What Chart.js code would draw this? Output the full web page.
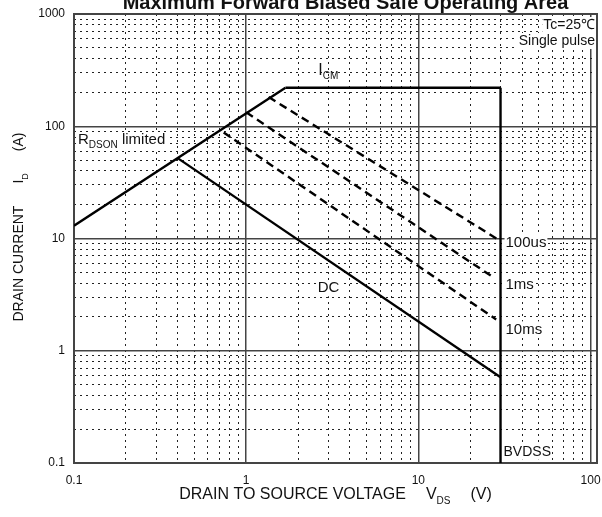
<!DOCTYPE html>
<html>
<head>
<meta charset="utf-8">
<script src="https://cdn.jsdelivr.net/npm/chart.js@4.4.1/dist/chart.umd.min.js"></script>
<style>
  html, body { margin: 0; padding: 0; background: #fff; }
</style>
</head>
<body>
<canvas id="soaChart" width="602" height="517"></canvas>
<script>
// 目盛り (対数軸)
const xMajor = [0.1, 1, 10, 100];
const yMajor = [0.1, 1, 10, 100, 1000];
const minorSteps = [2, 3, 4, 5, 6, 7, 8, 9];

// 各制限線 (V, A)
const rdsonV = [0.1, 1.69];
const rdsonI = [13, 220];
const icmV = [1.69, 30];
const icmI = [220, 220];
const bvdssV = [30, 30];
const bvdssI = [0.1, 220];
const dcV = [0.4, 30];
const dcI = [52, 0.58];
const us100V = [1.35, 30];
const us100I = [182, 9.5];
const ms1V = [1, 27.3];
const ms1I = [133, 4.5];
const ms10V = [0.74, 28.3];
const ms10I = [88, 1.9];

const FONT = "'Liberation Sans', Arial, sans-serif";

// 主目盛り + 補助目盛り
function gridValues(majors) {
  const out = [];
  for (let i = 0; i < majors.length; i++) {
    out.push(majors[i]);
    if (i < majors.length - 1) {
      minorSteps.forEach((m) => out.push(majors[i] * m));
    }
  }
  return out;
}
const xGrid = gridValues(xMajor);
const yGrid = gridValues(yMajor);

function isMajor(list, v) {
  return list.some((m) => Math.abs(m - v) / m < 1e-6);
}

function toPoints(xs, ys) {
  return xs.map((v, i) => ({ x: v, y: ys[i] }));
}

function lineSet(xs, ys, dashed) {
  return {
    data: toPoints(xs, ys),
    showLine: true,
    borderColor: "#000",
    borderWidth: 2.4,
    borderDash: dashed ? [8, 5] : [],
    pointRadius: 0,
    fill: false,
  };
}

// ラベル (位置は軸の値で指定)
const labels = [
  { parts: [["100us", 15]], xv: 30, dx: 5, yv: 9.1 },
  { parts: [["1ms", 15]], xv: 30, dx: 5, yv: 3.9 },
  { parts: [["10ms", 15]], xv: 30, dx: 5, yv: 1.55 },
  { parts: [["DC", 15]], xv: 2.6, dx: 0, yv: 3.6 },
  { parts: [["BVDSS", 14]], xv: 30, dx: 3, yv: 0.126 },
  { parts: [["I", 16], ["CM", 10, true]], xv: 2.62, dx: 0, yv: 312, bg: false },
  { parts: [["R", 15], ["DSON", 10, true], [" limited", 15]], xv: 0.1, dx: 4, yv: 75 },
];

function partsWidth(ctx, parts) {
  let w = 0;
  parts.forEach((p) => {
    ctx.font = p[1] + "px " + FONT;
    w += ctx.measureText(p[0]).width + (p[3] || 0);
  });
  return w;
}

function drawParts(ctx, parts, x, y) {
  parts.forEach((p) => {
    ctx.font = p[1] + "px " + FONT;
    ctx.fillText(p[0], x, p[2] ? y + 5 : y);
    x += ctx.measureText(p[0]).width + (p[3] || 0);
  });
}

function labelBoxes(chart, textOnly) {
  const ctx = chart.ctx;
  const xs = chart.scales.x;
  const ys = chart.scales.y;
  const area = chart.chartArea;
  ctx.save();
  ctx.textBaseline = "middle";
  ctx.textAlign = "left";
  labels.forEach((l) => {
    const x = xs.getPixelForValue(l.xv) + l.dx;
    const y = ys.getPixelForValue(l.yv);
    const w = partsWidth(ctx, l.parts);
    if (!textOnly) {
      if (l.bg !== false) {
        ctx.fillStyle = "#fff";
        ctx.fillRect(x - 1, y - 8, w + 2, 16);
      }
    } else {
      ctx.fillStyle = "#111";
      drawParts(ctx, l.parts, x, y);
    }
  });

  // 右上の条件
  const notes = ["Tc=25℃", "Single pulse"];
  notes.forEach((t, i) => {
    ctx.font = "14px " + FONT;
    const w = ctx.measureText(t).width;
    const x = area.right - 2 - w;
    const y = area.top + 11 + i * 16;
    if (!textOnly) {
      ctx.fillStyle = "#fff";
      ctx.fillRect(x - 1, y - 8, w + 2, 16);
    } else {
      ctx.fillStyle = "#111";
      ctx.fillText(t, x, y);
    }
  });
  ctx.restore();
}

const soaPlugin = {
  id: "soaText",
  beforeDatasetsDraw(chart) {
    labelBoxes(chart, false);
    const a = chart.chartArea;
    const ctx = chart.ctx;
    ctx.save();
    ctx.strokeStyle = "#444";
    ctx.lineWidth = 2;
    ctx.strokeRect(a.left, a.top, a.right - a.left, a.bottom - a.top);
    ctx.restore();
  },
  afterDraw(chart) {
    labelBoxes(chart, true);
    const ctx = chart.ctx;
    const a = chart.chartArea;
    const cx = (a.left + a.right) / 2;
    const cy = (a.top + a.bottom) / 2;
    ctx.save();
    ctx.fillStyle = "#111";
    ctx.textBaseline = "alphabetic";

    // タイトル
    ctx.textAlign = "center";
    ctx.font = "bold 20px " + FONT;
    ctx.fillText("Maximum Forward Biased Safe Operating Area", cx + 10, 9);

    // X軸タイトル
    ctx.textAlign = "left";
    const xt = [["DRAIN TO SOURCE VOLTAGE", 16, false, 20], ["V", 16], ["DS", 10, true, 20], ["(V)", 16]];
    const xw = partsWidth(ctx, xt);
    drawParts(ctx, xt, cx - xw / 2, 499);

    // Y軸タイトル
    const yt = [["DRAIN CURRENT", 14, false, 22], ["I", 14], ["D", 9, true, 22], ["(A)", 14]];
    ctx.translate(23, cy + 83);
    ctx.rotate(-Math.PI / 2);
    drawParts(ctx, yt, 0, 0);
    ctx.restore();
  },
};

const ctx = document.getElementById("soaChart").getContext("2d");
new Chart(ctx, {
  type: "scatter",
  data: {
    datasets: [
      lineSet(rdsonV, rdsonI, false),
      lineSet(icmV, icmI, false),
      lineSet(bvdssV, bvdssI, false),
      lineSet(dcV, dcI, false),
      lineSet(us100V, us100I, true),
      lineSet(ms1V, ms1I, true),
      lineSet(ms10V, ms10I, true),
    ],
  },
  options: {
    responsive: false,
    animation: false,
    layout: { padding: { top: 14, right: 5, left: 0, bottom: 0 } },
    plugins: {
      legend: { display: false },
      tooltip: { enabled: false },
    },
    scales: {
      x: {
        type: "logarithmic",
        min: 0.1,
        max: 109,
        afterBuildTicks: (scale) => {
          scale.ticks = xGrid.map((v) => ({ value: v }));
        },
        afterFit: (scale) => {
          scale.height = 54;
          scale.paddingLeft = 0;
          scale.paddingRight = 0;
        },
        ticks: {
          autoSkip: false,
          maxRotation: 0,
          padding: 10,
          color: "#111",
          font: { family: FONT, size: 12 },
          callback: (value, i, ticks) => {
            const v = ticks[i].value;
            return isMajor(xMajor, v) ? String(v) : "";
          },
        },
        grid: {
          drawTicks: false,
          color: (c) => (c.tick && isMajor(xMajor, c.tick.value) ? "#444" : "#222"),
          lineWidth: (c) => (c.tick && isMajor(xMajor, c.tick.value) ? 1.5 : 1),
        },
        border: {
          display: false,
          dash: (c) => (c.tick && !isMajor(xMajor, c.tick.value) ? [2, 4] : []),
        },
      },
      y: {
        type: "logarithmic",
        min: 0.1,
        max: 1000,
        afterBuildTicks: (scale) => {
          scale.ticks = yGrid.map((v) => ({ value: v }));
        },
        afterFit: (scale) => {
          scale.width = 74;
          scale.paddingTop = 0;
          scale.paddingBottom = 0;
        },
        ticks: {
          autoSkip: false,
          padding: 9,
          color: "#111",
          font: { family: FONT, size: 12 },
          callback: (value, i, ticks) => {
            const v = ticks[i].value;
            return isMajor(yMajor, v) ? String(v) : "";
          },
        },
        grid: {
          drawTicks: false,
          color: (c) => (c.tick && isMajor(yMajor, c.tick.value) ? "#444" : "#222"),
          lineWidth: (c) => (c.tick && isMajor(yMajor, c.tick.value) ? 1.5 : 1),
        },
        border: {
          display: false,
          dash: (c) => (c.tick && !isMajor(yMajor, c.tick.value) ? [2, 4] : []),
        },
      },
    },
  },
  plugins: [soaPlugin],
});
</script>
</body>
</html>
